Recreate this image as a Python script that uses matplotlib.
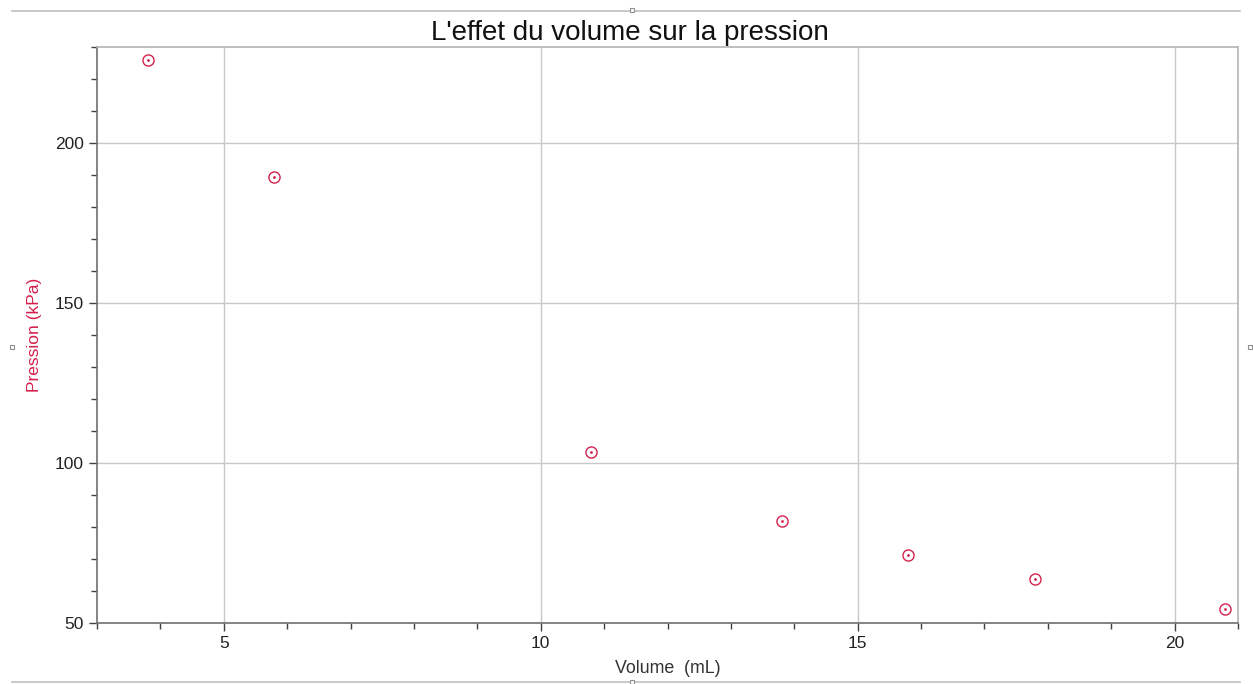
import numpy as np
import matplotlib.pyplot as plt
from matplotlib.lines import Line2D
from matplotlib.ticker import MultipleLocator

plt.rcParams['font.family'] = ['Liberation Sans', 'DejaVu Sans']

volume = [3.8, 5.8, 10.8, 13.8, 15.8, 17.8, 20.8]
pression = [225.9, 189.4, 103.4, 81.8, 71.2, 63.6, 54.3]

red = '#d4204c'

fig = plt.figure(figsize=(12.53, 6.84), dpi=100)
ax = fig.add_axes([97/1253, 61/684, (1238-97)/1253, (623-47)/684])

# open circle with a dot in the middle
ax.plot(volume, pression, linestyle='none', marker='o', markersize=8,
        markerfacecolor='none', markeredgecolor=red, markeredgewidth=1.0, zorder=3)
ax.plot(volume, pression, linestyle='none', marker='.', markersize=2,
        color=red, zorder=4)

ax.set_xlim(3, 21)
ax.set_ylim(50, 230)
ax.xaxis.set_major_locator(MultipleLocator(5))
ax.xaxis.set_minor_locator(MultipleLocator(1))
ax.yaxis.set_major_locator(MultipleLocator(50))
ax.yaxis.set_minor_locator(MultipleLocator(10))

ax.grid(True, which='major', color='#c8c8c8', linewidth=1)
ax.set_axisbelow(True)
ax.tick_params(which='major', length=6, width=1, color='#404040',
               labelsize=12.5, labelcolor='#222222')
ax.tick_params(which='minor', length=4, width=1, color='#404040')

for s in ['left', 'bottom']:
    ax.spines[s].set_color('#707070')
    ax.spines[s].set_linewidth(1.2)
for s in ['top', 'right']:
    ax.spines[s].set_color('#b4b4b4')
    ax.spines[s].set_linewidth(1.2)

fig.text(630/1253, 1 - 40/684, "L'effet du volume sur la pression", fontsize=20,
         color='#111111', ha='center', va='baseline')
ax.set_xlabel('Volume  (mL)', fontsize=12.8, color='#333333', labelpad=6)
ax.set_ylabel('Pression (kPa)', fontsize=12.5, color=red, labelpad=9)

# outer frame of the graph window
for yy in [673/684, 2/684]:
    fig.add_artist(Line2D([12/1253, 1240/1253], [yy, yy], transform=fig.transFigure,
                          color='#c0c0c0', linewidth=1.2))
for (hx, hy) in [(632, 10), (632, 682), (12, 347), (1250, 347)]:
    fig.add_artist(Line2D([hx/1253], [1 - hy/684], transform=fig.transFigure,
                          marker='s', markersize=3, markerfacecolor='white',
                          markeredgecolor='#909090', markeredgewidth=0.8))

fig.savefig('out.png', dpi=100)
